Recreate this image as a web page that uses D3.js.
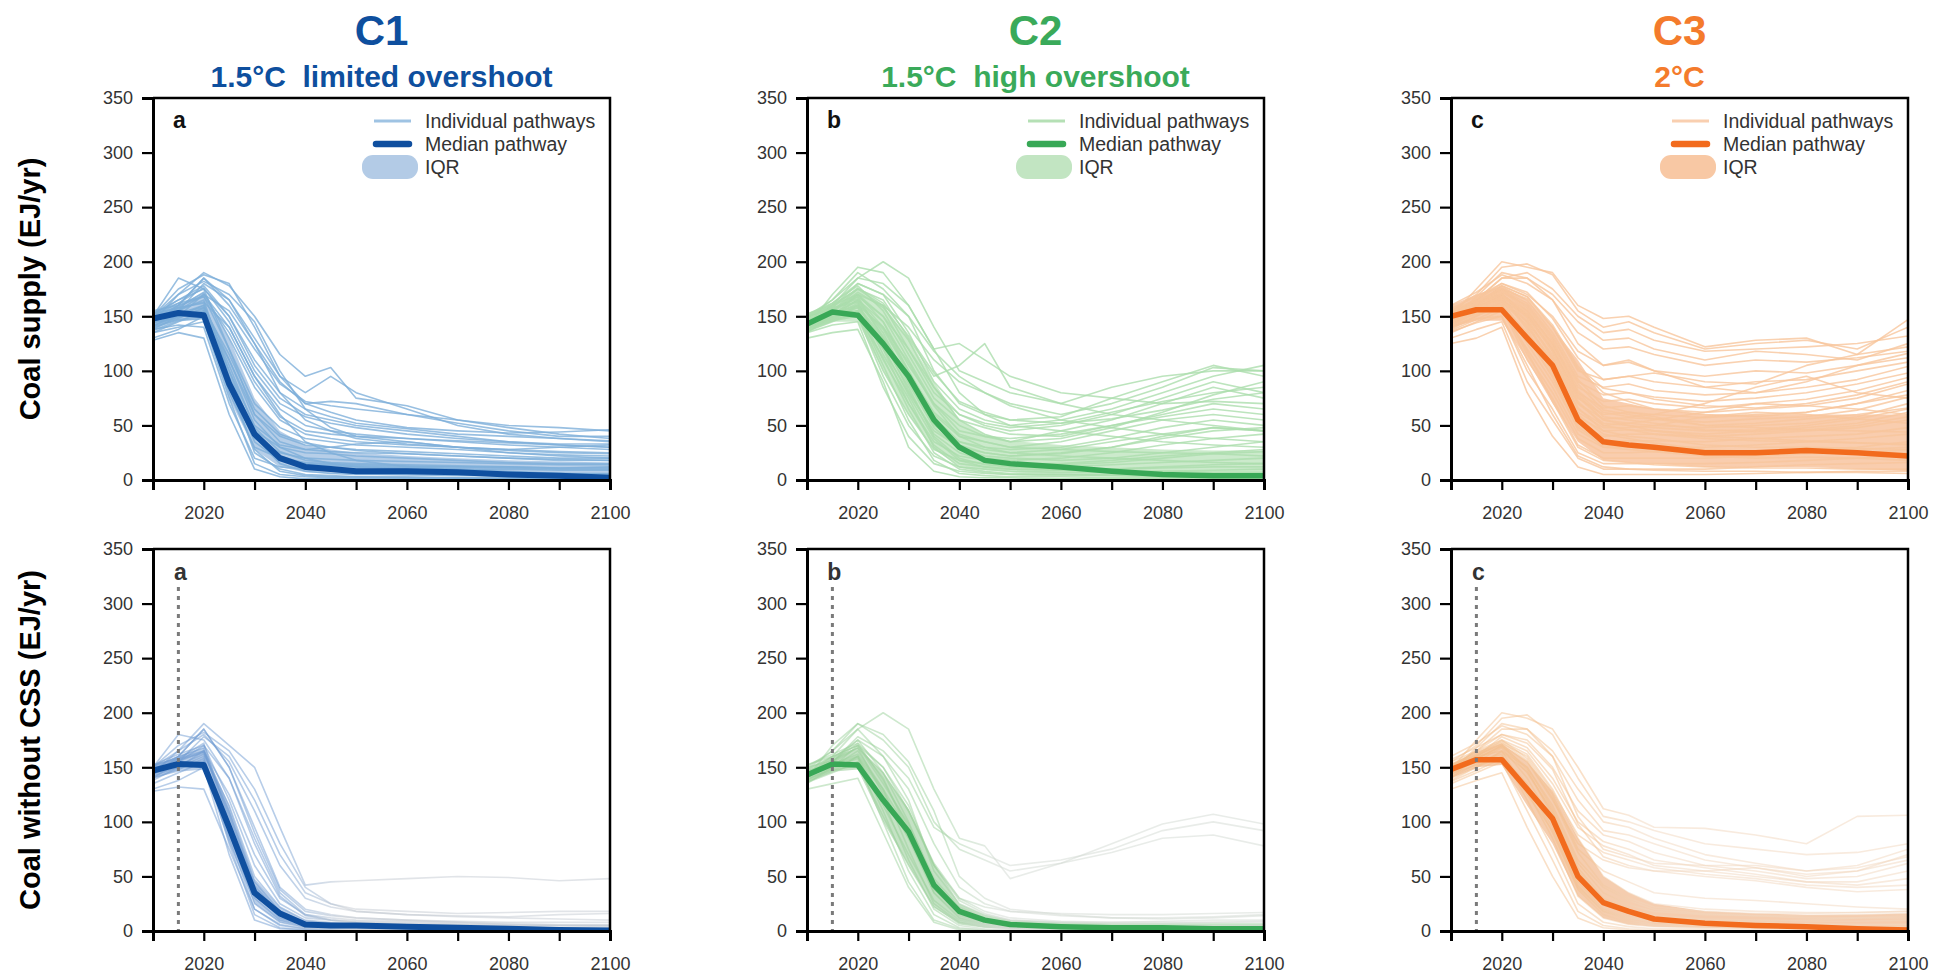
<!DOCTYPE html>
<html>
<head>
<meta charset="utf-8">
<script src="https://cdn.jsdelivr.net/npm/d3@7"></script>
<style>
html,body{margin:0;padding:0;background:#fff;}
svg{display:block;font-family:"Liberation Sans",Arial,Helvetica,sans-serif;}
</style>
</head>
<body>
<svg id="chart" width="1941" height="976"></svg>
<script>
// ---------------- DATA ----------------
const YEARS = [2010,2015,2020,2025,2030,2035,2040,2045,2050,2060,2070,2080,2090,2100];
const X_TICKS = [2010,2020,2030,2040,2050,2060,2070,2080,2090,2100];
const X_LABELS = [2020,2040,2060,2080,2100];
const Y_TICKS = [0,50,100,150,200,250,300,350];
const TITLES = ["C1","C2","C3"];
const SUBTITLES = ["1.5°C\u00a0 limited overshoot","1.5°C\u00a0 high overshoot","2°C"];
const PANEL_LETTERS = ["a","b","c"];
const ROW_LABELS = ["Coal supply (EJ/yr)","Coal without CSS (EJ/yr)"];
const LEGEND_LABELS = ["Individual pathways","Median pathway","IQR"];
const VLINE_YEAR = 2015;

// C1 – coal supply
const C1_SUPPLY_MEDIAN = [148,153,151,88,42,20,12,10,8,8,7,5,4,2];
const C1_SUPPLY_P25 = [140,146,148,75,28,12,7,6,5,4,4,3,3,2];
const C1_SUPPLY_P75 = [152,160,172,130,75,45,32,28,25,22,20,18,17,16];
const C1_SUPPLY_LINES = [
[148,160,185,160,125,90,70,62,55,48,45,43,44,46],
[150,185,175,150,110,80,65,58,52,47,42,40,38,36],
[145,170,190,178,150,115,95,103,75,68,55,48,42,38],
[140,155,180,165,130,95,80,95,80,65,50,42,38,35],
[152,165,178,150,105,75,60,55,50,45,40,35,32,30],
[138,150,170,140,95,65,50,45,42,38,35,32,30,28],
[145,158,172,130,85,55,42,38,35,32,30,28,26,25],
[150,162,168,120,70,48,38,35,32,30,28,25,23,22],
[142,150,160,110,60,40,32,30,28,26,24,22,20,20],
[135,145,155,100,50,32,28,26,25,24,22,20,18,18],
[148,155,165,95,45,30,25,24,22,20,18,16,15,15],
[140,148,158,85,38,25,20,19,18,17,16,15,14,14],
[130,138,150,80,30,20,16,15,14,13,12,12,11,12],
[150,165,175,120,60,35,28,30,33,35,30,28,30,32],
[146,152,160,90,35,18,14,13,12,11,10,10,9,9],
[138,142,140,70,20,12,10,9,8,8,7,6,6,6],
[152,158,162,100,40,15,8,6,5,5,4,4,3,3],
[135,140,145,75,15,5,3,2,2,2,1,1,1,1],
[144,150,155,90,25,10,5,4,3,3,2,2,2,2],
[150,170,182,170,145,100,65,48,40,35,30,25,22,20],
[147,155,170,155,120,88,72,68,65,60,55,50,48,45],
[143,160,185,165,125,80,55,45,38,33,30,27,25,24],
[128,135,130,60,10,3,1,1,1,1,1,0,0,0],
[149,157,163,140,95,60,35,25,18,12,10,8,6,5],
[141,150,152,110,55,30,20,15,12,10,8,7,6,5],
[155,160,168,135,90,58,45,42,40,38,36,34,32,30],
[137,146,148,92,42,22,15,14,13,12,12,11,10,10],
[150,175,188,180,140,95,70,72,70,60,52,45,40,40],
[146,153,158,105,48,26,18,16,15,14,13,12,11,11],
[139,147,150,85,28,8,4,3,3,2,2,1,1,1],
[153,162,176,145,100,70,58,52,48,42,38,35,33,33],
[144,149,157,115,65,42,34,30,27,24,22,20,19,18]
];

// C2 – coal supply
const C2_SUPPLY_MEDIAN = [143,154,151,125,95,55,30,18,15,12,8,5,4,4];
const C2_SUPPLY_P25 = [136,145,145,100,60,28,13,9,7,5,4,3,3,3];
const C2_SUPPLY_P75 = [150,162,175,160,130,90,55,42,36,32,30,28,27,27];
const C2_SUPPLY_LINES = [
[143,160,185,200,185,140,100,90,80,70,60,55,50,45],
[140,170,195,190,160,120,125,110,95,80,75,70,72,70],
[145,155,175,165,130,95,105,125,85,70,85,95,100,100],
[135,150,170,160,140,110,90,80,70,60,70,85,103,100],
[150,165,190,175,150,100,70,60,55,58,75,90,105,95],
[142,158,180,170,135,90,65,55,50,55,65,80,95,105],
[148,160,175,160,120,80,60,50,45,50,60,75,90,80],
[138,150,165,145,105,70,50,40,35,45,55,70,85,75],
[152,162,178,155,115,75,55,48,42,40,50,60,70,65],
[140,148,160,140,100,60,40,35,30,35,45,55,60,55],
[145,152,165,135,90,50,35,30,28,30,38,48,55,50],
[136,145,155,120,80,45,30,25,22,25,30,40,48,45],
[150,156,168,130,95,55,30,22,20,18,20,25,30,35],
[143,150,158,110,70,35,22,18,15,15,18,22,25,28],
[139,147,152,100,60,28,18,15,12,12,14,16,18,20],
[147,153,160,125,85,40,20,14,12,10,10,12,14,15],
[141,149,150,95,50,22,12,10,8,7,7,8,9,10],
[135,142,145,85,40,15,8,6,5,5,5,5,5,6],
[150,158,163,115,75,30,12,8,6,5,4,4,3,3],
[146,152,155,105,55,18,6,4,3,3,2,2,2,2],
[130,135,138,90,30,8,3,2,2,1,1,1,1,1],
[144,155,170,150,110,70,45,40,38,42,50,58,65,60],
[148,165,185,180,160,120,80,60,50,45,40,35,32,30],
[140,155,172,158,128,85,60,52,48,52,62,72,80,85],
[152,160,170,145,100,58,35,28,25,28,35,42,48,45],
[137,146,160,130,88,48,28,20,18,20,25,32,38,42],
[145,150,155,120,70,32,15,12,10,9,10,11,12,12],
[149,162,180,170,150,118,95,80,68,55,48,42,38,35],
[142,150,162,138,98,62,42,35,30,28,26,25,24,22],
[151,157,166,140,108,68,40,30,25,22,20,18,16,15],
[138,148,158,128,82,42,25,18,15,14,16,20,24,26],
[146,154,168,150,120,85,55,42,35,38,48,62,78,90],
[143,152,164,132,92,52,32,25,22,24,30,38,45,48],
[141,150,160,122,78,38,18,12,10,9,8,8,7,7],
[139,146,150,112,65,25,10,7,5,4,4,3,3,3],
[147,158,176,162,132,98,72,62,55,52,56,64,74,80]
];

// C3 – coal supply
const C3_SUPPLY_MEDIAN = [150,156,156,130,105,55,35,32,30,25,25,27,25,22];
const C3_SUPPLY_P25 = [140,146,146,110,70,35,18,16,15,12,12,12,10,8];
const C3_SUPPLY_P75 = [160,170,178,165,140,110,75,70,65,60,60,60,60,60];
const C3_SUPPLY_LINES = [
[150,175,200,195,190,160,148,150,140,122,128,130,115,147],
[155,170,195,198,188,155,140,145,135,120,125,128,120,140],
[148,165,185,190,175,150,135,138,128,118,120,122,125,132],
[145,168,190,185,170,145,128,130,120,110,118,115,110,125],
[160,172,188,180,165,135,120,122,115,105,110,108,112,118],
[152,165,180,170,150,118,105,108,100,95,100,98,105,112],
[140,160,178,168,140,100,92,95,90,85,90,92,100,108],
[150,162,175,165,135,95,85,88,82,78,80,85,92,104],
[147,160,172,160,130,90,78,80,76,72,75,80,88,98],
[143,157,170,155,125,85,72,74,70,66,70,74,82,94],
[155,165,175,158,128,80,66,68,65,62,65,68,75,88],
[138,150,165,150,120,75,60,62,60,57,60,62,70,82],
[150,158,170,145,115,70,56,57,56,53,56,58,64,76],
[145,155,168,140,110,65,50,52,50,48,50,52,58,70],
[140,150,160,135,100,58,45,46,45,42,45,48,52,62],
[152,160,165,130,95,52,40,42,42,40,42,45,48,55],
[148,155,162,125,90,48,35,36,36,35,38,40,42,48],
[135,145,155,120,85,42,30,30,30,30,32,35,38,42],
[150,158,160,115,80,38,25,25,26,25,26,28,30,35],
[144,152,158,110,75,32,20,20,20,20,22,24,25,28],
[140,148,150,100,65,25,15,15,15,15,16,18,20,22],
[130,138,145,90,55,20,10,10,10,10,12,14,15,16],
[125,130,140,80,40,12,5,5,5,5,6,7,8,8],
[155,163,170,150,120,78,55,50,45,40,38,36,34,32],
[149,160,174,162,132,92,68,62,58,50,48,46,45,44],
[146,158,169,152,118,72,50,46,42,38,36,35,34,33],
[151,161,171,148,112,66,45,40,38,32,30,30,29,28],
[142,154,166,144,106,60,42,38,34,28,26,27,26,25],
[153,164,173,156,124,82,62,58,60,70,85,95,80,75],
[147,159,170,150,118,76,55,52,55,62,70,68,65,60],
[139,151,163,142,104,62,48,48,50,58,62,60,56,52],
[157,168,180,172,148,112,92,95,98,90,88,105,115,122],
[150,165,185,185,165,125,105,110,100,85,80,90,105,116],
[144,156,167,138,98,50,30,28,26,22,20,21,20,18],
[148,155,160,118,72,30,18,16,14,12,11,11,10,10],
[136,144,150,105,60,22,12,10,9,8,8,7,7,6],
[152,162,176,166,140,102,80,72,65,60,58,62,70,78],
[141,153,164,146,112,70,52,50,48,45,46,50,56,65],
[149,158,168,152,126,88,64,60,56,50,52,56,60,66],
[137,147,158,132,94,46,32,30,28,26,25,26,28,30],
[154,166,178,168,142,104,84,80,74,68,66,70,78,90],
[146,157,168,154,122,80,58,55,52,46,44,46,50,58]
];

// C1 – coal without CCS
const C1_NOCCS_MEDIAN = [147,153,152,95,35,16,6,5,5,4,3,2,1,0.5];
const C1_NOCCS_P25 = [140,146,148,80,25,8,3,2,2,1,1,0,0,0];
const C1_NOCCS_P75 = [152,160,168,115,48,22,10,8,6,5,4,3,3,3];
const C1_NOCCS_LINES = [
[148,160,185,150,95,40,20,15,12,10,8,6,5,5],
[150,180,175,140,85,35,15,10,8,6,5,4,3,3],
[145,165,190,170,150,95,42,45,46,48,50,49,46,48],
[140,155,178,160,120,70,35,25,20,18,16,17,18,18],
[152,162,170,120,60,25,12,10,9,8,7,6,5,5],
[138,150,165,110,45,18,8,6,5,4,3,3,2,2],
[145,158,172,100,35,12,5,4,3,3,2,2,1,1],
[150,160,168,95,30,10,4,3,2,2,1,1,1,1],
[142,150,160,90,25,8,3,2,2,1,1,1,0,0],
[135,145,155,85,20,5,2,1,1,1,0,0,0,0],
[148,155,165,105,40,15,6,5,4,3,3,2,2,2],
[140,148,158,80,15,3,1,1,0,0,0,0,0,0],
[130,138,150,70,10,2,1,0,0,0,0,0,0,0],
[150,165,180,155,110,60,30,22,18,15,14,13,15,16],
[146,152,162,115,50,22,10,8,7,6,6,5,5,5],
[128,132,130,75,20,6,2,1,1,0,0,0,0,0],
[152,158,165,125,70,30,15,12,10,9,8,7,6,6],
[144,150,156,98,38,14,6,5,4,3,3,2,2,2],
[150,170,182,165,130,80,40,25,18,15,13,12,11,10],
[147,155,170,140,80,32,14,10,8,7,6,5,5,4],
[143,160,185,150,90,38,18,14,12,10,9,8,8,8],
[149,157,163,108,42,16,7,5,4,3,3,2,2,2]
];

// C2 – coal without CCS
const C2_NOCCS_MEDIAN = [143,153,152,120,91,42,18,10,6,4,3,3,2,2];
const C2_NOCCS_P25 = [136,146,148,100,60,22,6,3,2,1,1,1,1,1];
const C2_NOCCS_P75 = [148,160,168,145,112,62,25,15,10,8,7,7,7,7];
const C2_NOCCS_LINES = [
[143,160,185,200,185,130,85,78,48,62,80,98,107,98],
[140,170,190,175,150,100,75,65,55,62,72,85,88,78],
[145,155,178,165,140,95,80,70,60,65,75,92,100,92],
[135,150,170,150,110,60,30,22,18,16,15,15,16,17],
[150,165,185,160,120,55,25,15,10,8,8,9,10,10],
[142,158,175,145,100,45,18,10,6,5,4,4,4,4],
[148,160,170,140,90,35,12,6,4,3,3,3,3,3],
[138,150,165,130,75,25,8,4,2,2,1,1,1,1],
[152,162,172,138,95,40,15,8,5,4,3,3,3,3],
[140,148,160,120,65,20,5,2,1,1,1,1,1,1],
[145,152,160,110,55,15,3,1,1,0,0,0,0,0],
[136,145,155,100,45,10,2,1,0,0,0,0,0,0],
[150,156,168,125,85,35,12,6,3,2,2,2,2,2],
[143,150,158,115,70,28,10,5,3,2,2,2,2,2],
[139,147,152,105,60,22,8,4,2,1,1,1,1,1],
[147,153,162,130,92,45,20,12,8,6,5,5,5,5],
[130,135,140,90,40,8,1,0,0,0,0,0,0,0],
[144,155,175,160,130,80,40,25,18,14,12,11,12,14],
[148,165,190,180,155,110,50,30,20,15,12,12,13,15],
[140,155,172,150,115,60,28,16,10,8,7,7,8,9],
[152,160,170,135,98,48,22,12,7,5,4,4,4,4],
[137,146,160,128,85,38,14,7,4,3,3,3,3,3],
[146,154,168,145,110,62,30,18,12,9,8,8,8,8]
];

// C3 – coal without CCS
const C3_NOCCS_MEDIAN = [148,157,157,130,103,50,26,18,11,7,5,4,2,1];
const C3_NOCCS_P25 = [140,150,152,115,80,32,12,6,4,3,2,2,1,1];
const C3_NOCCS_P75 = [153,164,172,155,128,85,50,35,25,18,16,15,15,16];
const C3_NOCCS_LINES = [
[148,175,200,195,185,150,112,106,95,94,88,80,105,106],
[155,170,195,198,180,140,105,100,92,80,75,70,72,80],
[145,168,190,185,165,130,100,95,85,70,62,55,60,75],
[160,172,188,180,160,120,92,88,80,65,58,50,55,70],
[150,165,180,175,150,110,88,82,72,60,55,48,50,62],
[140,160,178,168,140,100,82,75,65,58,52,45,45,55],
[152,162,175,165,135,95,78,70,60,55,50,45,42,48],
[147,160,172,160,128,88,72,65,58,52,48,42,40,42],
[143,157,170,155,120,80,65,58,55,50,46,40,36,38],
[155,165,175,158,125,75,55,45,35,30,28,25,22,20],
[138,150,165,150,115,65,40,28,20,16,14,12,12,12],
[150,158,170,145,110,55,28,18,12,10,8,7,6,6],
[145,155,168,140,100,45,20,12,8,6,5,4,3,3],
[140,150,160,135,90,38,15,8,5,4,3,2,2,2],
[152,160,165,128,85,32,12,6,4,3,2,2,1,1],
[148,155,162,120,75,25,8,4,2,2,1,1,1,1],
[135,145,155,110,65,18,5,2,1,1,0,0,0,0],
[130,138,145,95,50,12,3,1,0,0,0,0,0,0],
[144,152,158,125,92,40,18,12,10,9,9,10,12,14],
[149,160,174,162,130,85,50,35,25,20,18,17,17,18],
[146,158,169,150,112,62,35,24,18,15,14,14,15,16],
[151,161,171,148,105,50,25,15,10,8,7,6,6,6],
[153,164,173,156,122,72,42,30,22,18,16,16,17,18],
[157,168,180,172,148,98,68,60,55,55,58,52,55,65],
[150,165,185,185,160,105,75,68,62,60,60,55,58,68],
[141,153,164,146,108,58,30,20,14,11,10,9,9,10],
[137,147,158,132,95,42,18,10,6,5,4,4,4,4]
];

// ---------------- STYLE ----------------
const THEMES = [
  {title:"#0e4f9e", median:"#0f4f9f", line:"#7eafda", iqr:"#a9c6e4", iqrOp:0.85, legLine:"#9fc3e3", legIqr:"#b3cbe6",
   lineB0:"#6f9bd2", lineB1:"#c3c9d1", iqrB:"#88acd8"},
  {title:"#3aaa5a", median:"#38a856", line:"#abddad", iqr:"#c3e6c3", iqrOp:0.85, legLine:"#b5e0b5", legIqr:"#c2e5c2",
   lineB0:"#9bd19b", lineB1:"#d2d9d2", iqrB:"#9fcf9f"},
  {title:"#f47b2c", median:"#f26b1d", line:"#f8c59c", iqr:"#f7c19a", iqrOp:0.8, legLine:"#f9cfb0", legIqr:"#f8c8a4",
   lineB0:"#f3c08f", lineB1:"#f1d6bd", iqrB:"#efab7a"}
];

const PANELS = [
  [{lines:C1_SUPPLY_LINES, med:C1_SUPPLY_MEDIAN, p25:C1_SUPPLY_P25, p75:C1_SUPPLY_P75},
   {lines:C2_SUPPLY_LINES, med:C2_SUPPLY_MEDIAN, p25:C2_SUPPLY_P25, p75:C2_SUPPLY_P75},
   {lines:C3_SUPPLY_LINES, med:C3_SUPPLY_MEDIAN, p25:C3_SUPPLY_P25, p75:C3_SUPPLY_P75}],
  [{lines:C1_NOCCS_LINES, med:C1_NOCCS_MEDIAN, p25:C1_NOCCS_P25, p75:C1_NOCCS_P75},
   {lines:C2_NOCCS_LINES, med:C2_NOCCS_MEDIAN, p25:C2_NOCCS_P25, p75:C2_NOCCS_P75},
   {lines:C3_NOCCS_LINES, med:C3_NOCCS_MEDIAN, p25:C3_NOCCS_P25, p75:C3_NOCCS_P75}]
];

const COL_LEFT = [153, 807, 1451];
const ROW_TOP = [98, 549];
const PW = 457, PH = 382;

const svg = d3.select("#chart");
const x = d3.scaleLinear().domain([2010, 2100]).range([0, PW]);
const y = d3.scaleLinear().domain([0, 350]).range([PH, 0]);

const line = d3.line().x((d,i) => x(YEARS[i])).y(d => y(d));
const area = d3.area().x((d,i) => x(YEARS[i])).y0(d => y(d[0])).y1(d => y(d[1]));

const defs = svg.append("defs");

// titles
TITLES.forEach((t, c) => {
  const cx = COL_LEFT[c] + PW/2;
  svg.append("text").attr("x", cx).attr("y", 45).attr("text-anchor","middle")
    .attr("font-size", 42).attr("font-weight","bold").attr("fill", THEMES[c].title).text(t);
  svg.append("text").attr("x", cx).attr("y", 87).attr("text-anchor","middle")
    .attr("font-size", 30).attr("font-weight","bold").attr("fill", THEMES[c].title).text(SUBTITLES[c]);
});

// row labels
ROW_LABELS.forEach((t, r) => {
  svg.append("text").attr("transform", `translate(40,${ROW_TOP[r] + PH/2}) rotate(-90)`)
    .attr("text-anchor","middle").attr("font-size", 29).attr("font-weight","bold").attr("fill","#000").text(t);
});

PANELS.forEach((row, r) => {
  row.forEach((p, c) => {
    const th = THEMES[c];
    const g = svg.append("g").attr("transform", `translate(${COL_LEFT[c]},${ROW_TOP[r]})`);
    const clipId = `clip-${r}-${c}`;
    defs.append("clipPath").attr("id", clipId).append("rect").attr("width", PW).attr("height", PH);
    const plot = g.append("g").attr("clip-path", `url(#${clipId})`);

    let lineStroke = th.line, lineOpacity = 0.8, iqrFill = th.iqr, iqrOpacity = th.iqrOp;
    if (r === 1) {
      const gid = `grad-${c}`;
      const grad = defs.append("linearGradient").attr("id", gid)
        .attr("gradientUnits","userSpaceOnUse").attr("x1", 0).attr("x2", PW).attr("y1",0).attr("y2",0);
      grad.append("stop").attr("offset", "0%").attr("stop-color", th.lineB0);
      grad.append("stop").attr("offset", "28%").attr("stop-color", th.lineB0);
      grad.append("stop").attr("offset", "42%").attr("stop-color", th.lineB1);
      grad.append("stop").attr("offset", "100%").attr("stop-color", th.lineB1);
      lineStroke = `url(#${gid})`;
      lineOpacity = 0.5;
      iqrFill = th.iqrB; iqrOpacity = 0.6;
    }

    // IQR band
    const band = p.p25.map((v, i) => [v, p.p75[i]]);
    plot.append("path").attr("d", area(band)).attr("fill", iqrFill).attr("opacity", iqrOpacity);

    // individual pathways
    plot.append("g").selectAll("path").data(p.lines).join("path")
      .attr("d", d => line(d)).attr("fill","none").attr("stroke", lineStroke)
      .attr("stroke-width", 1.6).attr("opacity", lineOpacity).attr("stroke-linejoin","round");

    // dashed 2015 line on lower row
    if (r === 1) {
      g.append("line").attr("x1", x(VLINE_YEAR)).attr("x2", x(VLINE_YEAR))
        .attr("y1", 38).attr("y2", PH).attr("stroke", "#7a7a7a").attr("stroke-width", 3)
        .attr("stroke-dasharray", "4,5");
    }

    // median
    plot.append("path").attr("d", line(p.med)).attr("fill","none").attr("stroke", th.median)
      .attr("stroke-width", c === 0 ? 6 : 5.5).attr("stroke-linejoin","round").attr("stroke-linecap","round");

    // frame
    g.append("path").attr("d", `M0,0H${PW}V${PH}`).attr("fill","none").attr("stroke","#000").attr("stroke-width",2.5);

    // axes
    const ya = g.append("g").call(d3.axisLeft(y).tickValues(Y_TICKS).tickSize(11).tickPadding(9));
    const xa = g.append("g").attr("transform", `translate(0,${PH})`)
      .call(d3.axisBottom(x).tickValues(X_TICKS).tickSize(10).tickPadding(16)
        .tickFormat(d => X_LABELS.includes(d) ? String(d) : ""));
    [ya, xa].forEach(a => {
      a.select(".domain").attr("stroke","#000").attr("stroke-width",3);
      a.selectAll(".tick line").attr("stroke","#000").attr("stroke-width",2.2);
      a.selectAll(".tick text").attr("fill","#333").attr("font-size",18)
        .attr("font-family",'"Liberation Sans",Arial,sans-serif');
    });

    // panel letter
    if (r === 0) {
      g.append("text").attr("x", 20).attr("y", 30).attr("font-size", 23).attr("font-weight","bold")
        .attr("fill","#111").text(PANEL_LETTERS[c]);
    } else {
      g.append("text").attr("x", x(VLINE_YEAR) + 2).attr("y", 31).attr("text-anchor","middle")
        .attr("font-size", 23).attr("font-weight","bold").attr("fill","#333").text(PANEL_LETTERS[c]);
    }

    // legend on top row
    if (r === 0) {
      const lg = g.append("g").attr("transform", `translate(${PW - 238},0)`);
      const rowsY = [23, 46, 69];
      lg.append("line").attr("x1", 2).attr("x2", 39).attr("y1", rowsY[0]).attr("y2", rowsY[0])
        .attr("stroke", th.legLine).attr("stroke-width", 3);
      lg.append("line").attr("x1", 4).attr("x2", 37).attr("y1", rowsY[1]).attr("y2", rowsY[1])
        .attr("stroke", th.median).attr("stroke-width", 6.5).attr("stroke-linecap","round");
      lg.append("rect").attr("x", -10).attr("y", rowsY[2] - 12).attr("width", 56).attr("height", 24)
        .attr("rx", 11).attr("fill", th.legIqr);
      LEGEND_LABELS.forEach((t, i) => {
        lg.append("text").attr("x", 53).attr("y", rowsY[i]).attr("dy","0.35em")
          .attr("font-size", 19.5).attr("fill","#333").text(t);
      });
    }
  });
});
</script>
</body>
</html>
